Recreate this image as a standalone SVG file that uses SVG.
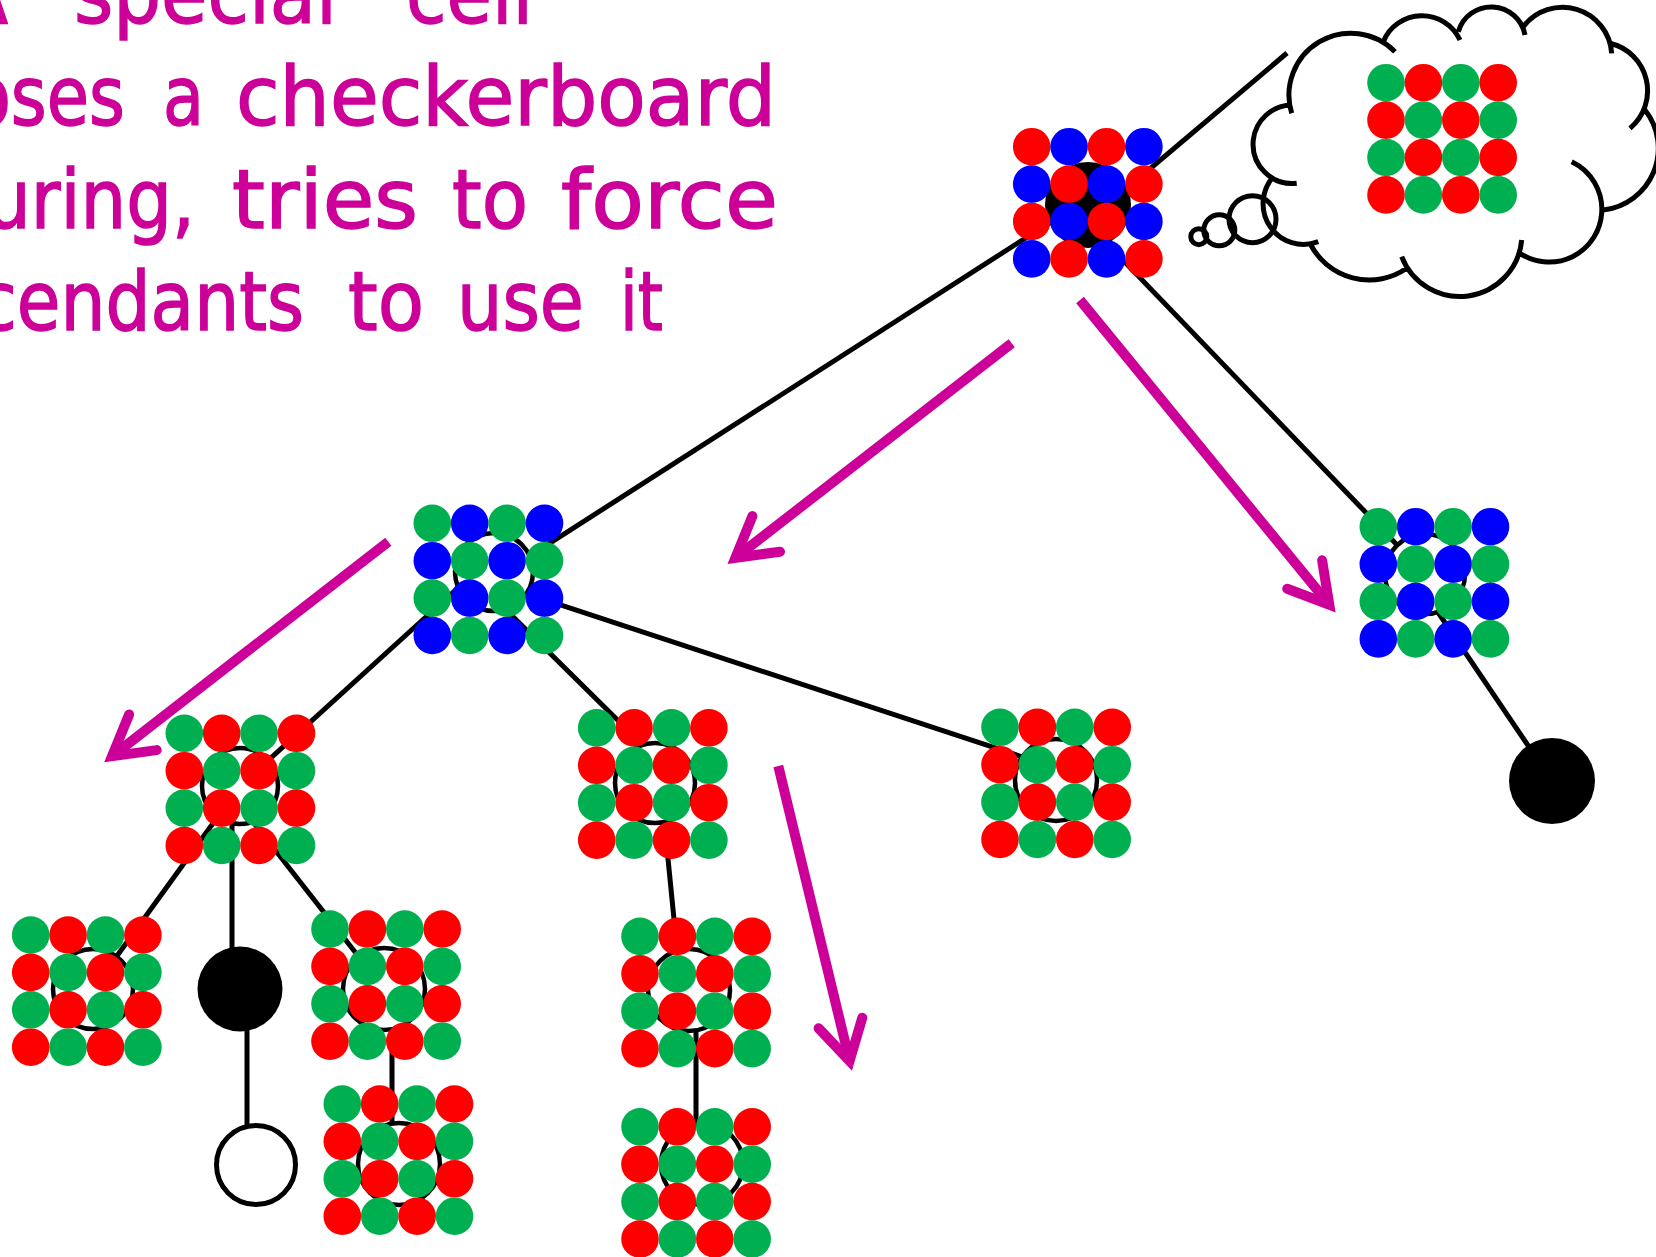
<svg xmlns="http://www.w3.org/2000/svg" xmlns:xlink="http://www.w3.org/1999/xlink" width="1656" height="1257" viewBox="0 0 1656 1257">
  <style>
    .dg { fill: #00B050; }
    .dr { fill: #FF0000; }
    .db { fill: #0000FF; }
    .edge { stroke: #000; stroke-width: 5; fill: none; }
    .ring { fill: #fff; stroke: #000; stroke-width: 4.5; }
    .solid { fill: #000; }
    .hollow { fill: #fff; stroke: #000; stroke-width: 5; }
    .cloud { fill: none; stroke: #000; stroke-width: 5; }
    .arrow { fill: none; stroke: #CC0099; stroke-width: 10; stroke-linejoin: miter; stroke-miterlimit: 10; }
    .arrow-head { stroke-linecap: round; }
    .caption { fill: #CC0099; stroke: #CC0099; stroke-width: 1.5; font-family: "DejaVu Sans", "Liberation Sans", sans-serif; font-size: 82px; }
  </style>
  <defs>
    <!-- 4x4 checkerboards of touching dots, first dot at the origin -->
    <g id="grid-gr">
      <circle class="dg" cx="0" cy="0" r="18.8"/><circle class="dr" cx="37.4" cy="0" r="18.8"/><circle class="dg" cx="74.8" cy="0" r="18.8"/><circle class="dr" cx="112.2" cy="0" r="18.8"/>
      <circle class="dr" cx="0" cy="37.4" r="18.8"/><circle class="dg" cx="37.4" cy="37.4" r="18.8"/><circle class="dr" cx="74.8" cy="37.4" r="18.8"/><circle class="dg" cx="112.2" cy="37.4" r="18.8"/>
      <circle class="dg" cx="0" cy="74.8" r="18.8"/><circle class="dr" cx="37.4" cy="74.8" r="18.8"/><circle class="dg" cx="74.8" cy="74.8" r="18.8"/><circle class="dr" cx="112.2" cy="74.8" r="18.8"/>
      <circle class="dr" cx="0" cy="112.2" r="18.8"/><circle class="dg" cx="37.4" cy="112.2" r="18.8"/><circle class="dr" cx="74.8" cy="112.2" r="18.8"/><circle class="dg" cx="112.2" cy="112.2" r="18.8"/>
    </g>
    <g id="grid-gb">
      <circle class="dg" cx="0" cy="0" r="18.8"/><circle class="db" cx="37.4" cy="0" r="18.8"/><circle class="dg" cx="74.8" cy="0" r="18.8"/><circle class="db" cx="112.2" cy="0" r="18.8"/>
      <circle class="db" cx="0" cy="37.4" r="18.8"/><circle class="dg" cx="37.4" cy="37.4" r="18.8"/><circle class="db" cx="74.8" cy="37.4" r="18.8"/><circle class="dg" cx="112.2" cy="37.4" r="18.8"/>
      <circle class="dg" cx="0" cy="74.8" r="18.8"/><circle class="db" cx="37.4" cy="74.8" r="18.8"/><circle class="dg" cx="74.8" cy="74.8" r="18.8"/><circle class="db" cx="112.2" cy="74.8" r="18.8"/>
      <circle class="db" cx="0" cy="112.2" r="18.8"/><circle class="dg" cx="37.4" cy="112.2" r="18.8"/><circle class="db" cx="74.8" cy="112.2" r="18.8"/><circle class="dg" cx="112.2" cy="112.2" r="18.8"/>
    </g>
    <g id="grid-rb">
      <circle class="dr" cx="0" cy="0" r="18.8"/><circle class="db" cx="37.4" cy="0" r="18.8"/><circle class="dr" cx="74.8" cy="0" r="18.8"/><circle class="db" cx="112.2" cy="0" r="18.8"/>
      <circle class="db" cx="0" cy="37.4" r="18.8"/><circle class="dr" cx="37.4" cy="37.4" r="18.8"/><circle class="db" cx="74.8" cy="37.4" r="18.8"/><circle class="dr" cx="112.2" cy="37.4" r="18.8"/>
      <circle class="dr" cx="0" cy="74.8" r="18.8"/><circle class="db" cx="37.4" cy="74.8" r="18.8"/><circle class="dr" cx="74.8" cy="74.8" r="18.8"/><circle class="db" cx="112.2" cy="74.8" r="18.8"/>
      <circle class="db" cx="0" cy="112.2" r="18.8"/><circle class="dr" cx="37.4" cy="112.2" r="18.8"/><circle class="db" cx="74.8" cy="112.2" r="18.8"/><circle class="dr" cx="112.2" cy="112.2" r="18.8"/>
    </g>
  </defs>

  <rect width="1656" height="1257" fill="#fff"/>

  <!-- caption -->
  <g id="caption">
    <text class="caption" y="23"><tspan x="-42" textLength="50" lengthAdjust="spacingAndGlyphs">A</tspan><tspan x="74" textLength="263" lengthAdjust="spacingAndGlyphs">special</tspan><tspan x="406" textLength="127" lengthAdjust="spacingAndGlyphs">cell</tspan></text>
    <text class="caption" y="125"><tspan x="-155" textLength="280" lengthAdjust="spacingAndGlyphs">chooses</tspan><tspan x="163" textLength="41" lengthAdjust="spacingAndGlyphs">a</tspan><tspan x="236" textLength="540" lengthAdjust="spacingAndGlyphs">checkerboard</tspan></text>
    <text class="caption" y="228"><tspan x="-163" textLength="358" lengthAdjust="spacingAndGlyphs">colouring,</tspan><tspan x="232" textLength="186" lengthAdjust="spacingAndGlyphs">tries</tspan><tspan x="452" textLength="76" lengthAdjust="spacingAndGlyphs">to</tspan><tspan x="561" textLength="217" lengthAdjust="spacingAndGlyphs">force</tspan></text>
    <text class="caption" y="330"><tspan x="-148" textLength="452" lengthAdjust="spacingAndGlyphs">descendants</tspan><tspan x="348" textLength="76" lengthAdjust="spacingAndGlyphs">to</tspan><tspan x="457" textLength="127" lengthAdjust="spacingAndGlyphs">use</tspan><tspan x="620" textLength="43" lengthAdjust="spacingAndGlyphs">it</tspan></text>
  </g>

  <!-- tree edges -->
  <g id="connectors">
    <line class="edge" x1="1100" y1="211" x2="1287" y2="53"/>
    <line class="edge" x1="1088" y1="198" x2="494" y2="579"/>
    <line class="edge" x1="1094" y1="230" x2="1425" y2="574"/>
    <line class="edge" x1="494" y1="555" x2="240" y2="786"/>
    <line class="edge" x1="494" y1="598" x2="660" y2="762"/>
    <line class="edge" x1="494" y1="583" x2="1056" y2="768"/>
    <line class="edge" x1="240" y1="786" x2="93" y2="989"/>
    <line class="edge" x1="232" y1="786" x2="232" y2="970"/>
    <line class="edge" x1="225" y1="786" x2="384" y2="989"/>
    <line class="edge" x1="392" y1="989" x2="392" y2="1164"/>
    <line class="edge" x1="247" y1="989" x2="247" y2="1165"/>
    <line class="edge" x1="660.5" y1="783" x2="681" y2="990"/>
    <line class="edge" x1="696" y1="990" x2="696" y2="1164"/>
    <line class="edge" x1="1406" y1="565" x2="1552" y2="781"/>
  </g>

  <!-- tree nodes -->
  <g id="node-root">
    <circle class="solid" cx="1088" cy="205" r="43"/>
    <use xlink:href="#grid-rb" x="1031.7" y="146.7"/>
  </g>
  <g id="node-b">
    <circle class="ring" cx="494" cy="572" r="39"/>
    <use xlink:href="#grid-gb" x="432.3" y="523.3"/>
  </g>
  <g id="node-k">
    <circle class="ring" cx="1425" cy="574" r="40"/>
    <use xlink:href="#grid-gb" x="1378.3" y="526.7"/>
  </g>
  <g id="node-c">
    <circle class="ring" cx="240" cy="786" r="38"/>
    <use xlink:href="#grid-gr" x="184.3" y="733.3"/>
  </g>
  <g id="node-g">
    <circle class="ring" cx="655" cy="783" r="40"/>
    <use xlink:href="#grid-gr" x="596.7" y="727.9"/>
  </g>
  <g id="node-j">
    <circle class="ring" cx="1056" cy="780" r="41"/>
    <use xlink:href="#grid-gr" x="1000" y="727.3"/>
  </g>
  <g id="node-d">
    <circle class="ring" cx="93" cy="989" r="40"/>
    <use xlink:href="#grid-gr" x="30.7" y="935"/>
  </g>
  <g id="node-e">
    <circle class="ring" cx="384" cy="989" r="41"/>
    <use xlink:href="#grid-gr" x="330" y="929"/>
  </g>
  <g id="node-f">
    <circle class="ring" cx="399" cy="1164" r="41"/>
    <use xlink:href="#grid-gr" x="342.3" y="1104"/>
  </g>
  <g id="node-h">
    <circle class="ring" cx="689" cy="990" r="41"/>
    <use xlink:href="#grid-gr" x="640" y="936.4"/>
  </g>
  <g id="node-i">
    <circle class="ring" cx="702" cy="1164" r="41"/>
    <use xlink:href="#grid-gr" x="640" y="1126.8"/>
  </g>
  <g id="node-dead-left">
    <circle class="solid" cx="240" cy="989" r="42.5"/>
  </g>
  <g id="node-empty">
    <circle class="hollow" cx="256" cy="1165" r="39.5"/>
  </g>
  <g id="node-dead-right">
    <circle class="solid" cx="1552" cy="781" r="43"/>
  </g>

  <!-- thought cloud -->
  <g id="thought">
    <path class="cloud" d="M1291.7,113.3 A61.9,61.9 0 0 1 1395,51.7
      M1383.3,41.7 A41.8,41.8 0 0 1 1460,40
      M1458.3,31.7 A34.3,34.3 0 0 1 1525,35
      M1523.3,26.7 A49.3,49.3 0 0 1 1611.7,53.3
      M1610,43.3 A48.8,48.8 0 0 1 1630,128.3
      M1645,110 A62,62 0 0 1 1603.3,210
      M1571.7,161.7 A52.7,52.7 0 0 1 1601.7,213 A52.7,52.7 0 0 1 1520,253.3
      M1521.7,240 A62.2,62.2 0 0 1 1401.7,256.7
      M1406.7,268.3 A66,66 0 0 1 1310,243.3
      M1318.3,241.7 A40.7,40.7 0 0 1 1273.3,176.7
      M1296.7,183.3 A39.3,39.3 0 0 1 1253.3,140 A39.3,39.3 0 0 1 1291.7,105"/>
    <circle class="cloud" cx="1252.5" cy="219.2" r="23.5"/>
    <circle class="cloud" cx="1219.3" cy="230.3" r="15.5"/>
    <circle class="cloud" cx="1198.8" cy="236.7" r="8" stroke-width="4"/>
    <use xlink:href="#grid-gr" x="1386" y="82.7"/>
  </g>

  <!-- magenta direction arrows -->
  <g id="arrows">
    <path class="arrow" d="M1011.7,343.3 L735.4,557.8"/>
    <path class="arrow arrow-head" d="M752.4,516.1 L735.4,557.8 L780,551.7"/>
    <path class="arrow" d="M1080,300 L1329.3,604.7"/>
    <path class="arrow arrow-head" d="M1322.1,560.3 L1329.3,604.7 L1287.2,588.8"/>
    <path class="arrow" d="M388.3,541.7 L112.1,756.2"/>
    <path class="arrow arrow-head" d="M129.1,714.5 L112.1,756.2 L156.7,750.1"/>
    <path class="arrow" d="M778.3,766 L849.6,1060.9"/>
    <path class="arrow arrow-head" d="M862.3,1017.7 L849.6,1060.9 L818.6,1028.3"/>
  </g>
</svg>
